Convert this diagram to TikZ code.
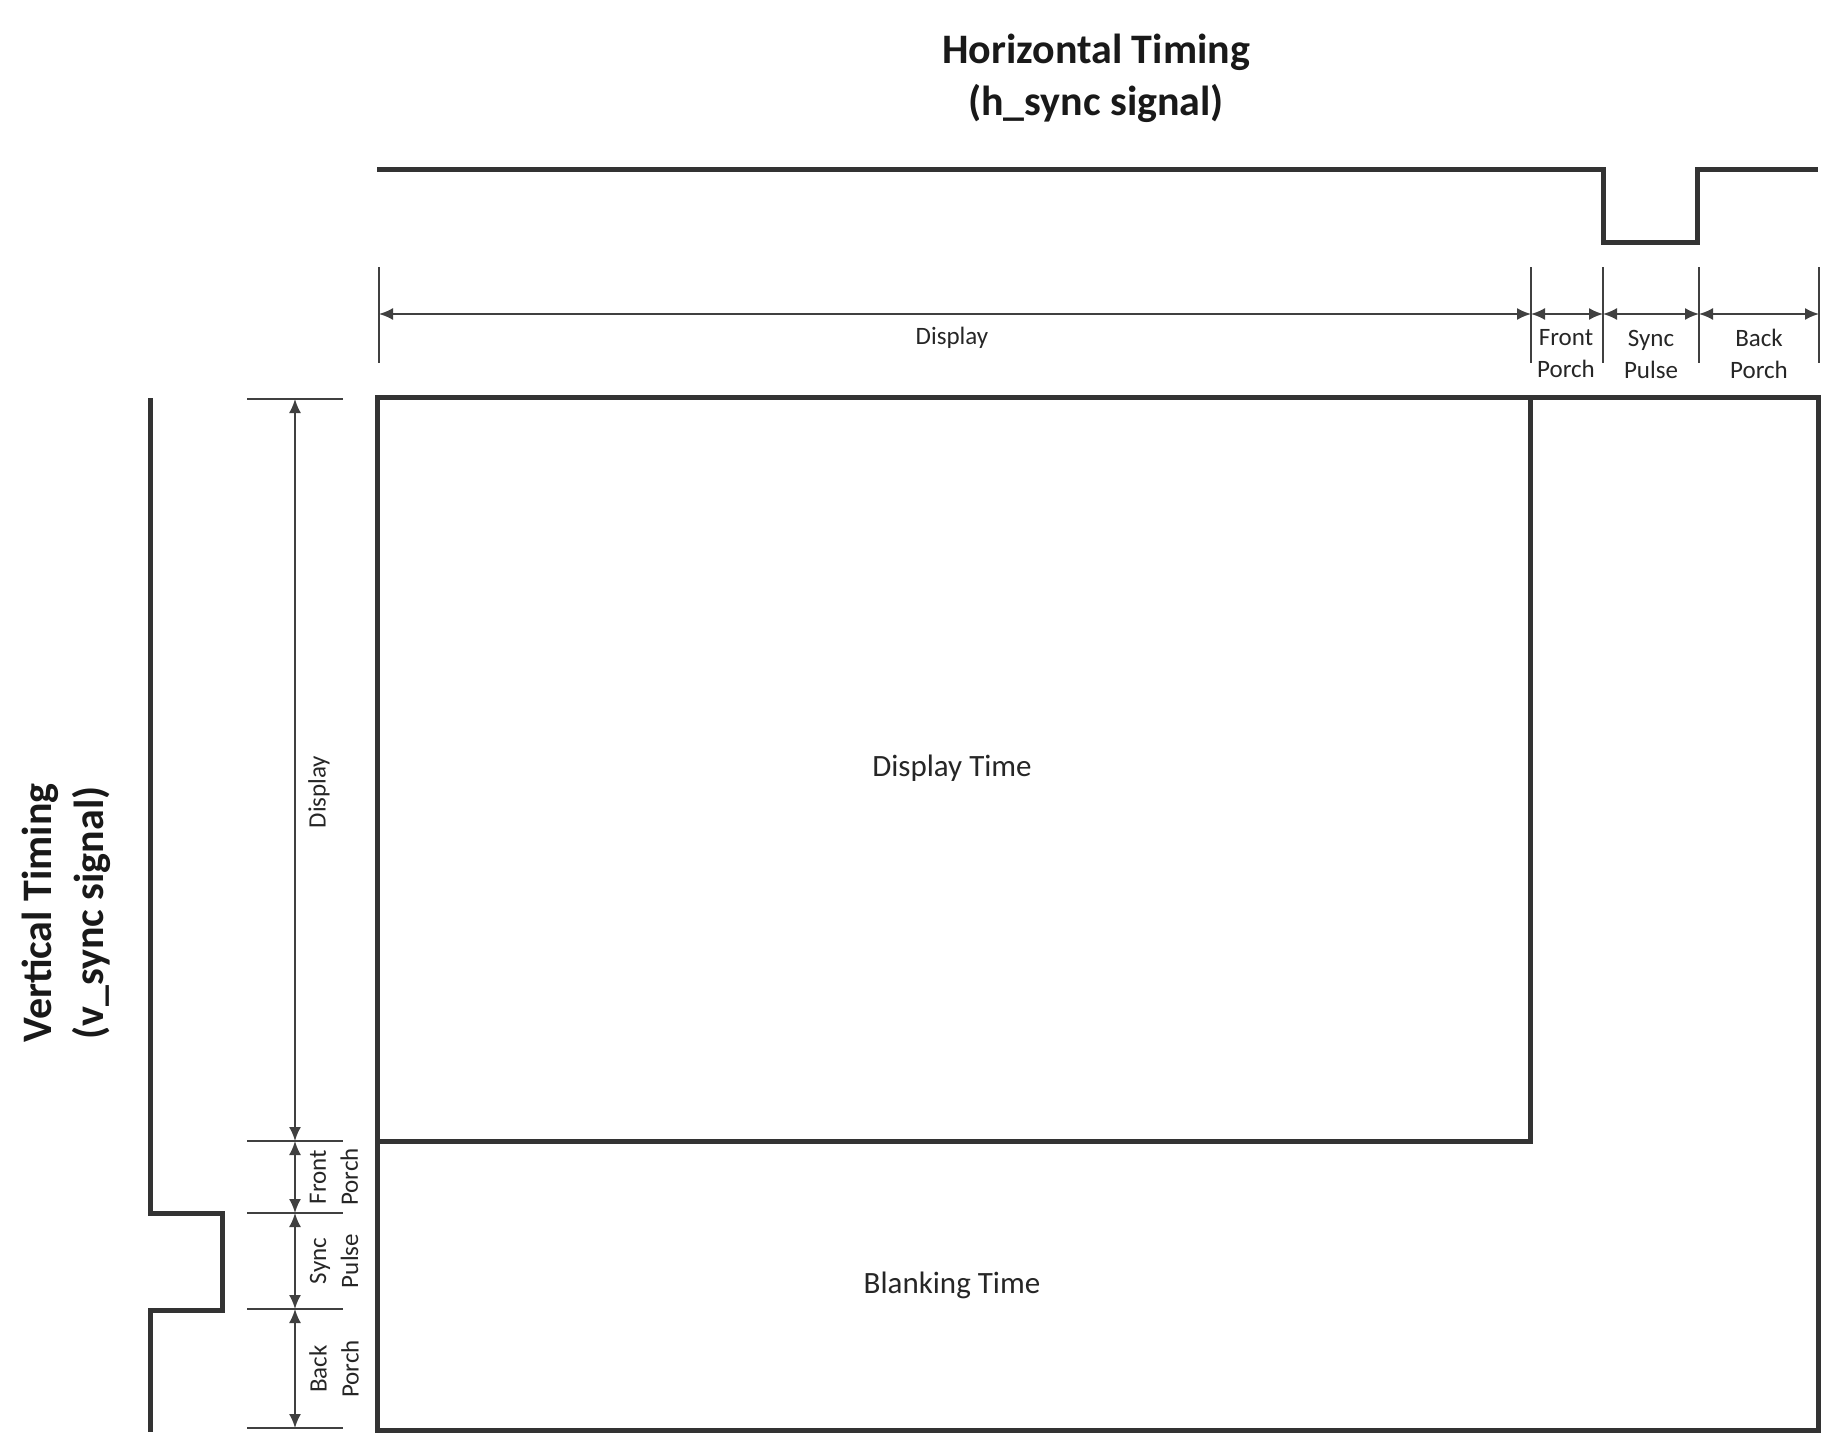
\documentclass[tikz,border=0pt]{standalone}
\usepackage{fontspec}
\setmainfont{Carlito}
\usetikzlibrary{arrows.meta, positioning}

\begin{document}
\begin{tikzpicture}[
  x=0.5pt, y=-0.5pt,
  >={Latex[length=7pt, width=6pt]},
  signal/.style={draw=black!80, line width=2.5pt, line join=miter},
  frame/.style={draw=black!80, line width=2.5pt},
  dimline/.style={draw=black!75, line width=0.9pt, <->},
  tickline/.style={draw=black!75, line width=0.9pt},
  lbl/.style={font=\fontsize{12.5}{16}\selectfont, align=center, text=black!85, inner sep=0pt},
  bigtxt/.style={font=\fontsize{15.5}{19}\selectfont, text=black!85, inner sep=0pt},
  heading/.style={font=\fontsize{21}{26}\selectfont\bfseries, align=center, text=black!90, inner sep=0pt}
]
  \useasboundingbox (0,0) rectangle (1848,1450);

  % Titel
  \node[heading] (htitle) at (1096,78) {Horizontal Timing\\(h\_sync signal)};
  \node[heading, rotate=90] (vtitle) at (66,913) {Vertical Timing\\(v\_sync signal)};

  % h_sync Signal
  \draw[signal] (377,170) -- (1603,170) -- (1603,242) -- (1697,242) -- (1697,170) -- (1818,170);

  % v_sync Signal
  \draw[signal] (150,398) -- (150,1213) -- (222,1213) -- (222,1310) -- (150,1310) -- (150,1432);

  % horizontale Bemassung
  \coordinate (ha) at (379,314);
  \coordinate (hb) at (1531,314);
  \coordinate (hc) at (1603,314);
  \coordinate (hd) at (1699,314);
  \coordinate (he) at (1819,314);
  \foreach \p in {ha,hb,hc,hd,he}
    \draw[tickline] (\p) ++(0,-47) -- ++(0,96);
  \draw[dimline] (ha) -- (hb);
  \draw[dimline] (hb) -- (hc);
  \draw[dimline] (hc) -- (hd);
  \draw[dimline] (hd) -- (he);

  \node[lbl] (hdisp) at (952,338) {Display};
  \node[lbl] (hfront) at (1566,354) {Front\\Porch};
  \node[lbl] (hsync) at (1651,354) {Sync\\Pulse};
  \node[lbl] (hback) at (1759,354) {Back\\Porch};

  % vertikale Bemassung
  \coordinate (va) at (295,399);
  \coordinate (vb) at (295,1141);
  \coordinate (vc) at (295,1213);
  \coordinate (vd) at (295,1309);
  \coordinate (ve) at (295,1428);
  \foreach \p in {va,vb,vc,vd,ve}
    \draw[tickline] (\p) ++(-48,0) -- ++(96,0);
  \draw[dimline] (va) -- (vb);
  \draw[dimline] (vb) -- (vc);
  \draw[dimline] (vc) -- (vd);
  \draw[dimline] (vd) -- (ve);

  \node[lbl, rotate=90] (vdisp) at (319,792) {Display};
  \node[lbl, rotate=90] (vfront) at (334,1177) {Front\\Porch};
  \node[lbl, rotate=90] (vsync) at (334,1261) {Sync\\Pulse};
  \node[lbl, rotate=90] (vback) at (334,1369) {Back\\Porch};

  % Bildbereich
  \draw[frame] (377,397) rectangle (1818,1430);
  \draw[frame] (1530,397) -- (1530,1141) -- (377,1141);
  \node[bigtxt] (disptime) at (952,768) {Display Time};
  \node[bigtxt] (blanktime) at (952,1285) {Blanking Time};

\end{tikzpicture}
\end{document}
